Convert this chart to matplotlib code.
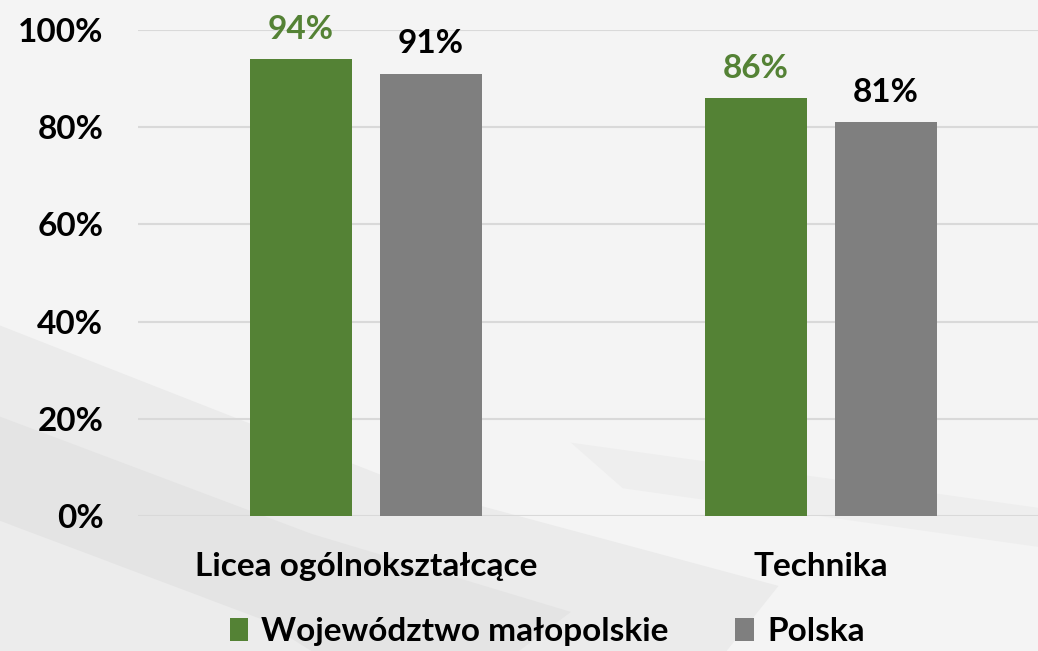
import numpy as np
import matplotlib.pyplot as plt
from matplotlib.patches import Polygon

categories = ['Licea ogólnokształcące', 'Technika']
malopolskie = [94, 86]
polska = [91, 81]
series_names = ['Województwo małopolskie', 'Polska']
yticks = [0, 20, 40, 60, 80, 100]

green = '#548235'
gray = '#7f7f7f'

plt.rcParams['font.family'] = ['Lato', 'DejaVu Sans']
plt.rcParams['font.weight'] = 'bold'

fig = plt.figure(figsize=(10.38, 6.51), dpi=100)
fig.patch.set_facecolor('#f4f4f4')

# soft diagonal streaks in the background (decoration only)
bg = fig.add_axes([0, 0, 1, 1], zorder=-1)
bg.set_xlim(0, 1)
bg.set_ylim(0, 1)
bg.axis('off')
for pts, col in [
    ([(0, 0.5), (0.4, 0.25), (0.75, 0.1), (0.7, 0.0), (0, 0.0)], '#ebebeb'),
    ([(0, 0.36), (0.3, 0.18), (0.55, 0.06), (0.5, 0.0), (0, 0.0)], '#e4e4e4'),
    ([(0, 0.2), (0.25, 0.05), (0.3, 0.0), (0, 0.0)], '#ececec'),
    ([(0.55, 0.32), (1.0, 0.22), (1.0, 0.16), (0.6, 0.25)], '#eeeeee'),
]:
    bg.add_patch(Polygon(pts, closed=True, facecolor=col, edgecolor='none'))

ax = fig.add_axes([0.133, 0.2074, 0.867, 0.7465])
ax.set_facecolor('none')

x = np.arange(len(categories))
w = 0.224
off = 0.143
b1 = ax.bar(x - off, malopolskie, w, color=green, label=series_names[0], zorder=3)
b2 = ax.bar(x + off, polska, w, color=gray, label=series_names[1], zorder=3)

for rect, v in zip(b1, malopolskie):
    ax.annotate(f'{v}%', (rect.get_x() + rect.get_width() / 2, v),
                xytext=(0, 11), textcoords='offset points', ha='center', va='bottom',
                fontsize=24, fontweight='bold', color=green)
for rect, v in zip(b2, polska):
    ax.annotate(f'{v}%', (rect.get_x() + rect.get_width() / 2, v),
                xytext=(0, 11), textcoords='offset points', ha='center', va='bottom',
                fontsize=24, fontweight='bold', color='black')

ax.set_xlim(-0.501, 1.477)
ax.set_ylim(0, 100)
ax.set_yticks(yticks)
ax.set_yticklabels([f'{t}%' for t in yticks], fontsize=24, fontweight='bold')
ax.set_xticks(x)
ax.set_xticklabels(categories, fontsize=24, fontweight='bold')
ax.tick_params(length=0)
ax.tick_params(axis='y', pad=25)
ax.tick_params(axis='x', pad=26)
ax.yaxis.grid(True, color='#d9d9d9', linewidth=1.5, zorder=0)
for s in ax.spines.values():
    s.set_visible(False)

fig.legend(loc='center', bbox_to_anchor=(0.527, 0.03), ncol=2, frameon=False,
           prop={'size': 24, 'weight': 'bold'}, handlelength=0.55, handleheight=0.7,
           handletextpad=0.4, columnspacing=2.0)

fig.savefig('out.png', dpi=100, facecolor=fig.get_facecolor())
